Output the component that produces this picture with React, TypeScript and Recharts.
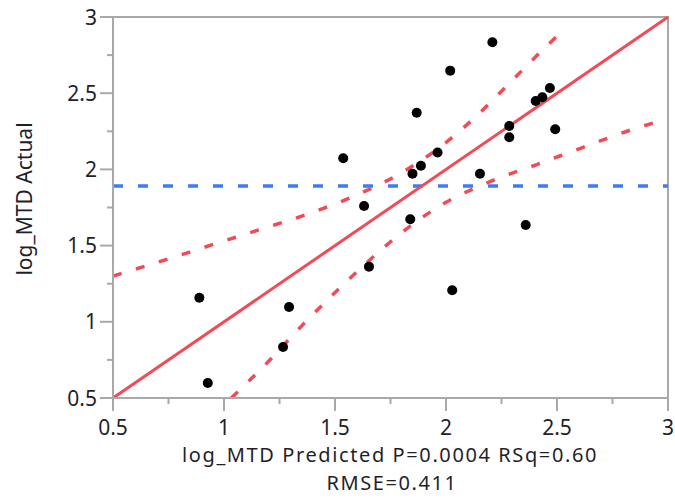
import React from "react";
import {
  ComposedChart,
  Label,
  Line,
  ReferenceArea,
  ReferenceLine,
  Scatter,
  XAxis,
  YAxis,
} from "recharts";

// observed points (predicted vs actual)
const predicted = [
  2.209, 2.019, 1.868, 1.537, 2.468, 2.434, 2.404, 2.285, 2.285, 2.492, 1.962,
  1.887, 1.849, 2.153, 1.631, 1.839, 2.359, 1.653, 2.028, 0.889, 1.293, 1.266,
  0.927,
];
const actual = [
  2.834, 2.648, 2.372, 2.073, 2.534, 2.473, 2.449, 2.285, 2.211, 2.263, 2.111,
  2.024, 1.972, 1.972, 1.76, 1.673, 1.635, 1.362, 1.207, 1.158, 1.097, 0.835,
  0.598,
];

// fit line and confidence curves
const fitX = [0.5, 3];
const fitY = [0.5, 3];
const upperX = [0.5, 0.737, 0.952, 1.165, 1.377, 1.586, 1.786, 1.971, 2.134, 2.288, 2.438, 2.54];
const upperY = [1.3, 1.407, 1.508, 1.607, 1.707, 1.825, 1.967, 2.144, 2.346, 2.569, 2.788, 2.93];
const lowerX = [1.033, 1.195, 1.342, 1.492, 1.653, 1.815, 2.0, 2.2, 2.409, 2.618, 2.829, 2.964];
const lowerY = [0.5, 0.732, 0.961, 1.18, 1.401, 1.602, 1.784, 1.921, 2.032, 2.145, 2.257, 2.318];
const meanActual = 1.891;

const ticks = [0.5, 0.75, 1, 1.25, 1.5, 1.75, 2, 2.25, 2.5, 2.75, 3];
const xTitle = "log_MTD Predicted P=0.0004 RSq=0.60";
const xTitle2 = "RMSE=0.411";
const yTitle = "log_MTD Actual";

const zip = (xs: number[], ys: number[]) => xs.map((x, i) => ({ x, y: ys[i] }));
const points = zip(predicted, actual);
const fit = zip(fitX, fitY);
const upper = zip(upperX, upperY);
const lower = zip(lowerX, lowerY);

const grey = "#a9a9a9";
const red = "#f24a57";
const blue = "#3d7cf5";
const ink = "#1f1f2b";
const font = "'Noto Sans', sans-serif";

const isMajor = (v: number) => Math.abs(v * 2 - Math.round(v * 2)) < 1e-6;

const YTick = ({ x, y, payload }: any) => {
  const major = isMajor(payload.value);
  return (
    <g>
      <line x1={x - (major ? 13 : 6)} x2={x} y1={y} y2={y} stroke={grey} strokeWidth={2} />
      {major && (
        <text x={x - 16} y={y} dy="0.36em" textAnchor="end" fontSize={21} fontFamily={font} fill={ink}>
          {String(payload.value)}
        </text>
      )}
    </g>
  );
};

const XTick = ({ x, y, payload }: any) => {
  const major = isMajor(payload.value);
  return (
    <g>
      <line x1={x} x2={x} y1={y} y2={y + (major ? 13 : 6)} stroke={grey} strokeWidth={2} />
      {major && (
        <text x={x} y={y + 37} textAnchor="middle" fontSize={21} fontFamily={font} fill={ink}>
          {String(payload.value)}
        </text>
      )}
    </g>
  );
};

const Dot = (props: any) => <circle cx={props.cx} cy={props.cy} r={5} fill="#000" />;

export default function App() {
  return (
    <div style={{ position: "absolute", left: 0, top: 0, width: 675, height: 503, background: "#fff" }}>
      <ComposedChart width={675} height={503} margin={{ top: 17, right: 7, bottom: 0, left: 0 }}>
        <XAxis
          type="number"
          dataKey="x"
          domain={[0.5, 3]}
          ticks={ticks}
          interval={0}
          height={105}
          tickSize={0}
          tickMargin={0}
          tickLine={false}
          axisLine={{ stroke: grey, strokeWidth: 2 }}
          tick={<XTick />}
        >
          <Label
            content={() => (
              <g fontFamily={font} fontSize={20} fill={ink}>
                <text x={390} y={462} textAnchor="middle" letterSpacing={1.6}>
                  {xTitle}
                </text>
                <text x={392} y={490} textAnchor="middle" letterSpacing={1.6}>
                  {xTitle2}
                </text>
              </g>
            )}
          />
        </XAxis>
        <YAxis
          type="number"
          dataKey="y"
          domain={[0.5, 3]}
          ticks={ticks}
          interval={0}
          width={113}
          tickSize={0}
          tickMargin={0}
          tickLine={false}
          axisLine={{ stroke: grey, strokeWidth: 2 }}
          tick={<YTick />}
        >
          <Label
            content={() => (
              <text
                x={25}
                y={199}
                transform="rotate(-90 25 199)"
                dy="0.35em"
                textAnchor="middle"
                fontFamily={font}
                fontSize={21}
                fill={ink}
              >
                {yTitle}
              </text>
            )}
          />
        </YAxis>
        <ReferenceArea x1={0.5} x2={3} y1={0.5} y2={3} fill="none" stroke={grey} strokeWidth={2} />
        <ReferenceLine y={meanActual} stroke={blue} strokeWidth={3.5} strokeDasharray="10 15" />
        <Line
          data={fit}
          dataKey="y"
          type="linear"
          stroke={red}
          strokeWidth={3}
          dot={false}
          activeDot={false}
          isAnimationActive={false}
        />
        <Line
          data={upper}
          dataKey="y"
          type="monotone"
          stroke={red}
          strokeWidth={3.5}
          strokeDasharray="9 15"
          dot={false}
          activeDot={false}
          isAnimationActive={false}
        />
        <Line
          data={lower}
          dataKey="y"
          type="monotone"
          stroke={red}
          strokeWidth={3.5}
          strokeDasharray="9 15"
          dot={false}
          activeDot={false}
          isAnimationActive={false}
        />
        <Scatter data={points} dataKey="y" shape={<Dot />} isAnimationActive={false} />
      </ComposedChart>
    </div>
  );
}
